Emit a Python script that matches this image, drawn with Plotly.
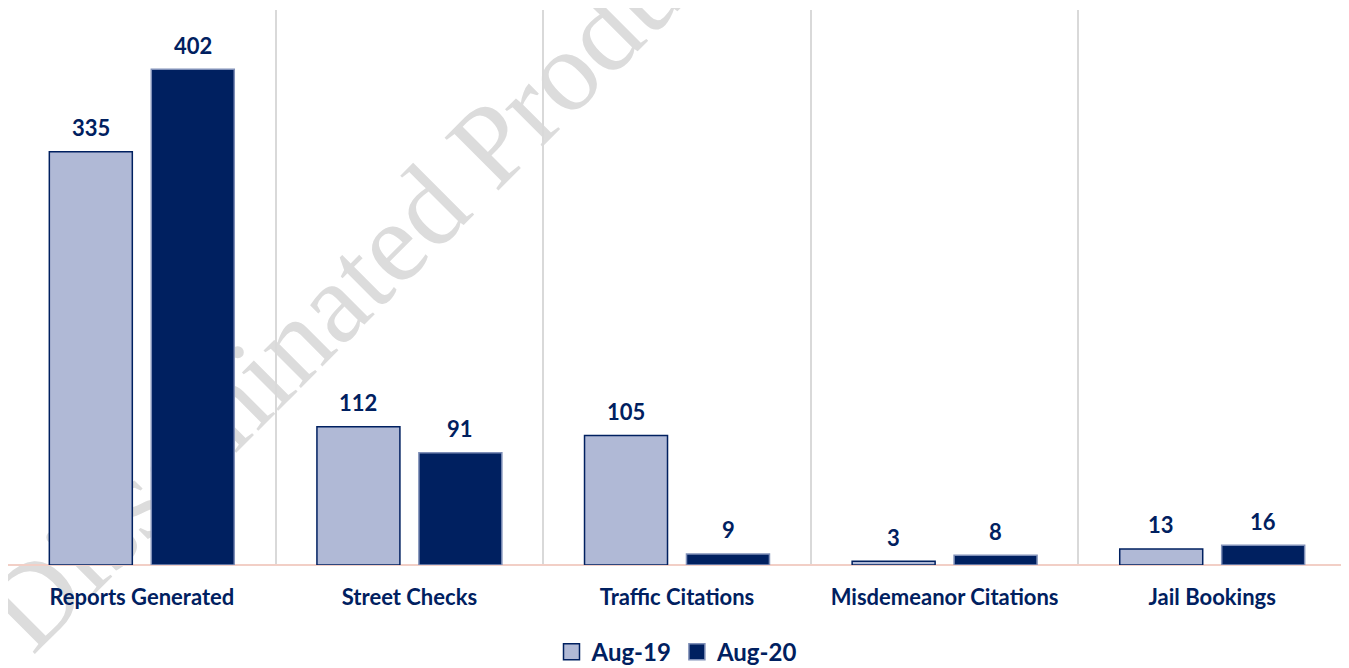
import plotly.graph_objects as go

categories = ["Reports Generated", "Street Checks", "Traffic Citations",
              "Misdemeanor Citations", "Jail Bookings"]
aug19 = [335, 112, 105, 3, 13]
aug20 = [402, 91, 9, 8, 16]
series_names = ["Aug-19", "Aug-20"]

NAVY = "#002060"
LIGHT = "#b0b9d6"
EDGE2 = "#8090b8"
FONT = "Lato"

fig = go.Figure()
fig.add_trace(go.Bar(x=categories, y=aug19, name=series_names[0], showlegend=False,
                     marker=dict(color=LIGHT, line=dict(color=NAVY, width=1.5))))
fig.add_trace(go.Bar(x=categories, y=aug20, name=series_names[1], showlegend=False,
                     marker=dict(color=NAVY, line=dict(color=EDGE2, width=1.5))))

# legend entries with larger square symbols
for nm, fill, edge in ((series_names[0], LIGHT, NAVY), (series_names[1], NAVY, EDGE2)):
    fig.add_trace(go.Scatter(x=[None], y=[None], mode="markers", name=f"<b>{nm}</b>",
                             marker=dict(symbol="square", size=16, color=fill,
                                         line=dict(color=edge, width=1.5))))

for vals, shift in ((aug19, -51), (aug20, 51)):
    for c, v in zip(categories, vals):
        fig.add_annotation(x=c, y=v, xref="x", yref="y", text=f"<b>{v}</b>",
                           showarrow=False, xshift=shift, yshift=24,
                           yanchor="middle",
                           font=dict(family=FONT, size=22, color=NAVY))

# watermark behind bars
cx, cy = 0.2586, 0.546
fig.add_shape(type="rect", xref="paper", yref="paper",
              x0=cx - 0.005, x1=cx + 0.005, y0=cy - 0.005, y1=cy + 0.005,
              line=dict(width=0), fillcolor="rgba(0,0,0,0)", layer="below",
              label=dict(text="Disseminated Product", textangle=-45,
                         textposition="middle center",
                         font=dict(family="Liberation Serif", size=115, color="#dcdcdc")))

fig.update_layout(
    width=1341, height=660,
    margin=dict(l=0, r=3, t=2, b=103, autoexpand=False),
    plot_bgcolor="white", paper_bgcolor="white",
    barmode="group", bargap=0.238, bargroupgap=0.186,
    showlegend=True,
    legend=dict(orientation="h", x=0.5, xanchor="center",
                yref="container", y=0.024, yanchor="middle",
                font=dict(family=FONT, size=24, color=NAVY), itemwidth=30,
                traceorder="normal"),
    font=dict(family=FONT, color=NAVY),
    xaxis=dict(tickson="boundaries", showgrid=True, gridcolor="#d9d9d9", gridwidth=1.5,
               ticks="", showline=False, automargin=False,
               tickvals=categories, ticktext=[f"<b>{c}</b>" for c in categories],
               tickfont=dict(family=FONT, size=22, color=NAVY),
               ticklabelstandoff=17),
    yaxis=dict(range=[0, 450], showgrid=False, showticklabels=False, automargin=False,
               zeroline=True, zerolinecolor="#f2cfc6", zerolinewidth=1.5),
)

fig.write_html("out.html")
